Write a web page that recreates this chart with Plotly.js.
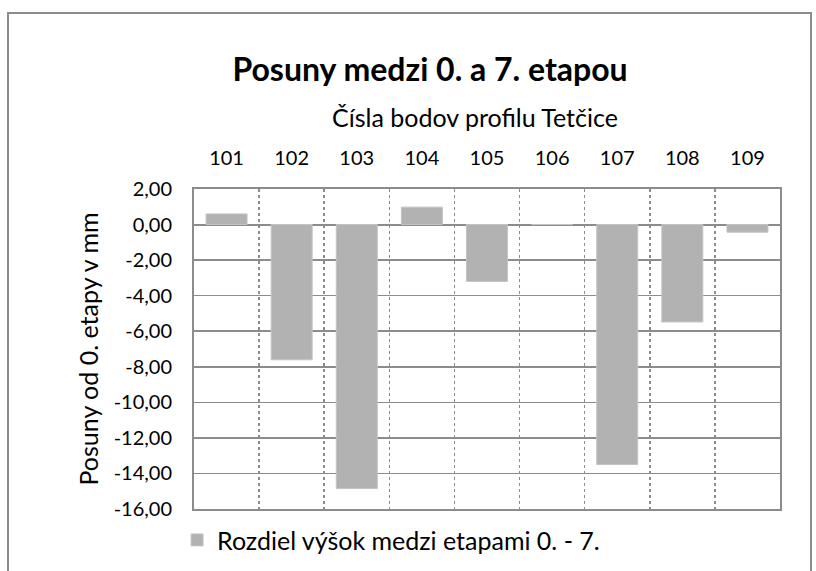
<!DOCTYPE html>
<html>
<head>
<meta charset="utf-8">
<script src="https://cdn.plot.ly/plotly-3.0.1.min.js"></script>
<style>
html,body{margin:0;padding:0;background:#fff;}
#wrap{position:relative;width:816px;height:571px;}
#chart{width:816px;height:571px;}
#frame{position:absolute;left:7px;top:12px;width:805px;height:575px;border:2px solid #8c8c8c;pointer-events:none;box-sizing:border-box;}
</style>
</head>
<body>
<div id="wrap">
<div id="chart"></div>
<div id="frame"></div>
</div>
<script>
const categories = ["101","102","103","104","105","106","107","108","109"];
const values = [0.60, -7.61, -14.85, 0.98, -3.20, 0.00, -13.50, -5.48, -0.43];
const seriesName = "Rozdiel výšok medzi etapami 0. - 7.";
const yTickVals = [2, 0, -2, -4, -6, -8, -10, -12, -14, -16];
const yTickText = ["2,00","0,00","-2,00","-4,00","-6,00","-8,00","-10,00","-12,00","-14,00","-16,00"];
const chartTitle = "Posuny medzi 0. a 7. etapou";
const xTitle = "Čísla bodov profilu Tetčice";
const yTitle = "Posuny od 0. etapy v mm";

const font = "Lato, 'Open Sans', sans-serif";

Plotly.newPlot("chart", [{
  type: "bar",
  x: categories,
  y: values,
  name: seriesName,
  marker: {color: "#b2b2b2", line: {color: "#c4c4c4", width: 1}},
  showlegend: true
}], {
  width: 816, height: 571,
  margin: {l: 194, r: 36, t: 189, b: 62},
  paper_bgcolor: "#fff", plot_bgcolor: "#fff",
  bargap: 0.37,
  font: {family: font, color: "#000", size: 20},
  title: {text: "<b>" + chartTitle + "</b>", font: {family: font, size: 32, color: "#000"},
          xref: "container", yref: "container", x: 0.527, xanchor: "center", y: 0.877, yanchor: "middle"},
  annotations: [{
    text: xTitle, xref: "paper", yref: "paper", x: (475 - 194) / 586, y: 1 + (189 - 117) / 320,
    xanchor: "center", yanchor: "middle", showarrow: false,
    font: {family: font, size: 25, color: "#000"}
  }],
  xaxis: {
    type: "category", side: "top",
    tickson: "boundaries", ticks: "", ticklen: 0,
    showgrid: true, gridcolor: "#8c8c8c", griddash: "dot", gridwidth: 1.5,
    showline: true, mirror: true, linecolor: "#8c8c8c", linewidth: 2,
    tickfont: {family: font, size: 20, color: "#000"},
    ticklabelstandoff: 14
  },
  yaxis: {
    range: [-16, 2], tickvals: yTickVals, ticktext: yTickText,
    showgrid: true, gridcolor: "#8c8c8c", gridwidth: 1.5,
    zeroline: true, zerolinecolor: "#8c8c8c", zerolinewidth: 2,
    showline: true, mirror: true, linecolor: "#8c8c8c", linewidth: 2,
    ticks: "", tickfont: {family: font, size: 20, color: "#000"},
    ticklabelstandoff: 16,
    title: {text: yTitle, font: {family: font, size: 25, color: "#000"}, standoff: 8}
  },
  legend: {orientation: "h", xref: "container", yref: "container", x: 0.217, xanchor: "left",
           y: 0.054, yanchor: "middle", font: {family: font, size: 25, color: "#000"}, itemwidth: 30}
}, {displayModeBar: false, staticPlot: true});
</script>
</body>
</html>
